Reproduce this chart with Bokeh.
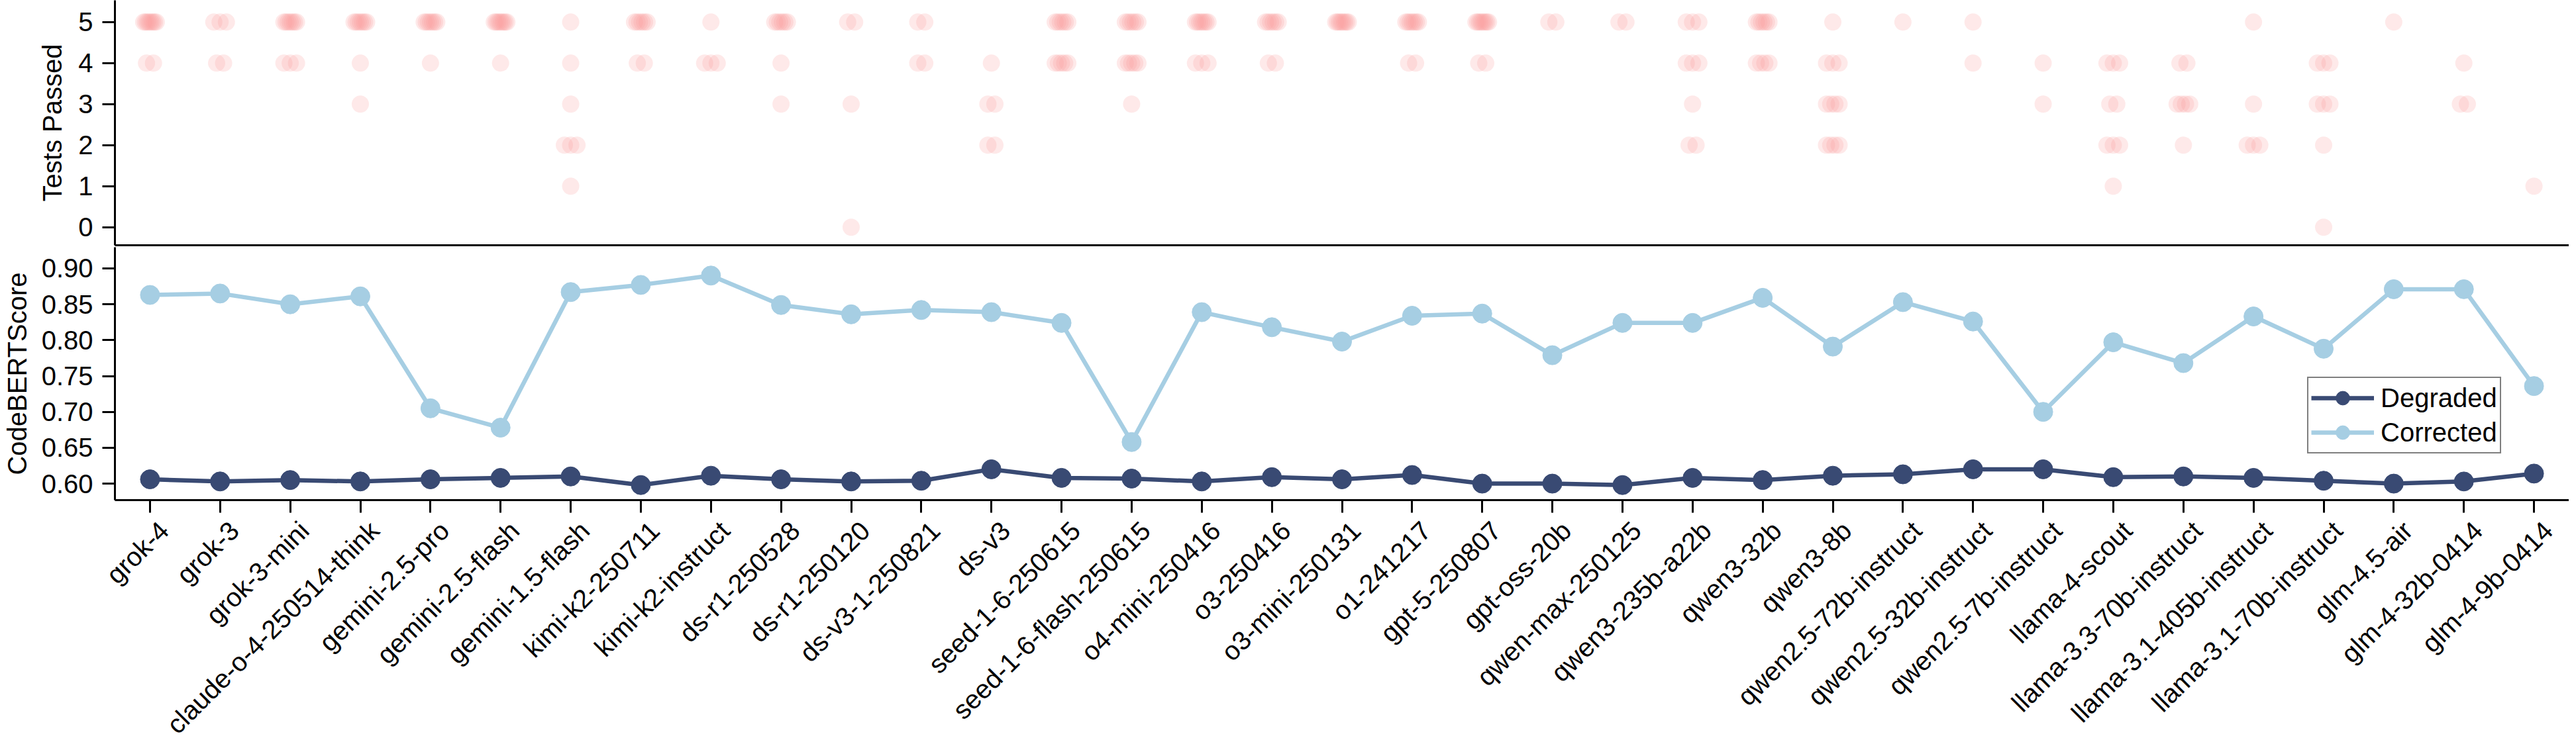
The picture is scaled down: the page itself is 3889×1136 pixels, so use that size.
import numpy as np
from bokeh.plotting import figure
from bokeh.layouts import column
from bokeh.models import (Range1d, FixedTicker, PrintfTickFormatter, Legend, LegendItem,
                          LinearAxis)
from bokeh.embed import file_html
from bokeh.resources import INLINE

# ---------------- data ----------------
models = [
    "grok-4", "grok-3", "grok-3-mini", "claude-o-4-250514-think", "gemini-2.5-pro",
    "gemini-2.5-flash", "gemini-1.5-flash", "kimi-k2-250711", "kimi-k2-instruct",
    "ds-r1-250528", "ds-r1-250120", "ds-v3-1-250821", "ds-v3", "seed-1-6-250615",
    "seed-1-6-flash-250615", "o4-mini-250416", "o3-250416", "o3-mini-250131",
    "o1-241217", "gpt-5-250807", "gpt-oss-20b", "qwen-max-250125", "qwen3-235b-a22b",
    "qwen3-32b", "qwen3-8b", "qwen2.5-72b-instruct", "qwen2.5-32b-instruct",
    "qwen2.5-7b-instruct", "llama-4-scout", "llama-3.3-70b-instruct",
    "llama-3.1-405b-instruct", "llama-3.1-70b-instruct", "glm-4.5-air",
    "glm-4-32b-0414", "glm-4-9b-0414",
]

degraded = [0.606, 0.603, 0.605, 0.603, 0.606, 0.608, 0.610, 0.598, 0.611, 0.606,
            0.603, 0.604, 0.620, 0.608, 0.607, 0.603, 0.609, 0.606, 0.612, 0.600,
            0.600, 0.598, 0.608, 0.605, 0.611, 0.613, 0.620, 0.620, 0.609, 0.610,
            0.608, 0.604, 0.600, 0.603, 0.614]

corrected = [0.863, 0.865, 0.850, 0.861, 0.705, 0.678, 0.867, 0.877, 0.890, 0.849,
             0.836, 0.842, 0.839, 0.824, 0.658, 0.839, 0.818, 0.798, 0.834, 0.837,
             0.779, 0.824, 0.824, 0.859, 0.791, 0.853, 0.826, 0.700, 0.797, 0.768,
             0.833, 0.788, 0.871, 0.871, 0.736]

# number of runs per model that passed 5, 4, 3, 2, 1, 0 tests
passed_5 = [8, 3, 7, 7, 7, 8, 1, 6, 1, 6, 2, 2, 0, 6, 6, 7, 6, 8, 7, 8, 2, 2, 3, 6, 1, 1, 1, 0, 0, 0, 1, 0, 1, 0, 0]
passed_4 = [2, 2, 3, 1, 1, 1, 1, 2, 3, 1, 0, 2, 1, 5, 5, 3, 2, 0, 2, 2, 0, 0, 3, 4, 3, 0, 1, 1, 3, 2, 0, 3, 0, 1, 0]
passed_3 = [0, 0, 0, 1, 0, 0, 1, 0, 0, 1, 1, 0, 2, 0, 1, 0, 0, 0, 0, 0, 0, 0, 1, 0, 4, 0, 0, 1, 2, 4, 1, 3, 0, 2, 0]
passed_2 = [0, 0, 0, 0, 0, 0, 3, 0, 0, 0, 0, 0, 2, 0, 0, 0, 0, 0, 0, 0, 0, 0, 2, 0, 4, 0, 0, 0, 3, 1, 3, 1, 0, 0, 0]
passed_1 = [0, 0, 0, 0, 0, 0, 1, 0, 0, 0, 0, 0, 0, 0, 0, 0, 0, 0, 0, 0, 0, 0, 0, 0, 0, 0, 0, 0, 1, 0, 0, 0, 0, 0, 1]
passed_0 = [0, 0, 0, 0, 0, 0, 0, 0, 0, 0, 1, 0, 0, 0, 0, 0, 0, 0, 0, 0, 0, 0, 0, 0, 0, 0, 0, 0, 0, 0, 0, 1, 0, 0, 0]

test_levels = [5, 4, 3, 2, 1, 0]
score_ticks = [0.60, 0.65, 0.70, 0.75, 0.80, 0.85, 0.90]

# ---------------- style ----------------
FONT = "Liberation Sans"
FS = "40px"
LEFT = 173
FRAME_W = 3705
C_DEG = "#394a73"
C_COR = "#a6cee3"
C_DOT = "#fb9a99"
LABEL_SHIFT = 0.2   # tick labels sit slightly right of their ticks, as in the reference

n = len(models)
x_range = Range1d(-0.5, n - 0.5)


def style_axis(ax):
    ax.axis_line_width = 3
    ax.axis_line_color = "black"
    ax.major_tick_line_width = 3
    ax.major_tick_line_color = "black"
    ax.major_tick_out = 19
    ax.major_tick_in = 0
    ax.minor_tick_line_color = None
    ax.major_label_text_font = FONT
    ax.major_label_text_font_size = FS
    ax.major_label_text_color = "black"
    ax.axis_label_text_font = FONT
    ax.axis_label_text_font_size = FS
    ax.axis_label_text_font_style = "normal"
    ax.axis_label_text_color = "black"


def hide_labels(ax):
    ax.major_label_text_color = None
    ax.major_label_text_font_size = "1px"
    ax.major_label_standoff = 0


# ---------------- top panel: tests passed strip ----------------
top = figure(frame_width=FRAME_W, frame_height=370, x_range=x_range,
             y_range=Range1d(-0.44, 5.53), output_backend="svg", toolbar_location=None,
             min_border_left=LEFT, min_border_right=0, min_border_top=0, min_border_bottom=3)
top.grid.visible = False
top.outline_line_color = None

xs, ys = [], []
for lvl, counts in zip(test_levels, [passed_5, passed_4, passed_3, passed_2, passed_1, passed_0]):
    for i, k in enumerate(counts):
        if k == 0:
            continue
        w = min(0.09, 0.05 * (k - 1))
        offs = np.linspace(-w, w, k) if k > 1 else [0.0]
        for o in offs:
            xs.append(i + o)
            ys.append(lvl)
top.scatter(xs, ys, size=26, fill_color=C_DOT, fill_alpha=0.22, line_color=None)

style_axis(top.yaxis[0])
top.yaxis[0].ticker = FixedTicker(ticks=[0, 1, 2, 3, 4, 5])
top.yaxis[0].axis_label = "Tests Passed"
top.yaxis[0].major_label_standoff = 14
top.yaxis[0].axis_label_standoff = 14

style_axis(top.xaxis[0])
top.xaxis[0].ticker = FixedTicker(ticks=[])
top.xaxis[0].major_tick_out = 0
hide_labels(top.xaxis[0])

# ---------------- bottom panel: CodeBERTScore ----------------
bot = figure(frame_width=FRAME_W, frame_height=382, x_range=x_range,
             y_range=Range1d(0.577, 0.9295), output_backend="svg", toolbar_location=None,
             min_border_left=LEFT, min_border_right=0, min_border_top=0, min_border_bottom=0)
bot.grid.visible = False
bot.outline_line_color = None
bot.extra_x_ranges = {"labels": Range1d(-0.5 - LABEL_SHIFT, n - 0.5 - LABEL_SHIFT)}

xi = list(range(n))
l_deg = bot.line(xi, degraded, line_width=6.5, line_color=C_DEG)
s_deg = bot.scatter(xi, degraded, size=29, fill_color=C_DEG, line_color=C_DEG)
l_cor = bot.line(xi, corrected, line_width=6.5, line_color=C_COR)
s_cor = bot.scatter(xi, corrected, size=29, fill_color=C_COR, line_color=C_COR)

style_axis(bot.yaxis[0])
bot.yaxis[0].ticker = FixedTicker(ticks=score_ticks)
bot.yaxis[0].formatter = PrintfTickFormatter(format="%.2f")
bot.yaxis[0].axis_label = "CodeBERTScore"
bot.yaxis[0].major_label_standoff = 14
bot.yaxis[0].axis_label_standoff = 12

# axis with the tick marks only
style_axis(bot.xaxis[0])
bot.xaxis[0].ticker = FixedTicker(ticks=xi)
hide_labels(bot.xaxis[0])

# axis carrying the rotated model names
lab_axis = LinearAxis(x_range_name="labels")
style_axis(lab_axis)
lab_axis.ticker = FixedTicker(ticks=xi)
lab_axis.major_label_overrides = {i: m for i, m in enumerate(models)}
lab_axis.major_label_orientation = np.pi / 4
lab_axis.major_label_standoff = 20
lab_axis.major_tick_out = 0
lab_axis.major_tick_line_color = None
lab_axis.axis_line_color = None
bot.add_layout(lab_axis, "below")

legend = Legend(items=[LegendItem(label="Degraded", renderers=[l_deg, s_deg]),
                       LegendItem(label="Corrected", renderers=[l_cor, s_cor])],
                location=(3310, 70))
legend.label_text_font = FONT
legend.label_text_font_size = FS
legend.label_text_color = "black"
legend.glyph_width = 95
legend.glyph_height = 52
legend.label_height = 52
legend.label_standoff = 10
legend.spacing = 0
legend.padding = 4
legend.margin = 0
legend.border_line_color = "black"
legend.border_line_width = 2
legend.background_fill_alpha = 1.0
bot.add_layout(legend)

layout = column(top, bot, spacing=0)
open("out.html", "w").write(file_html(layout, INLINE))
